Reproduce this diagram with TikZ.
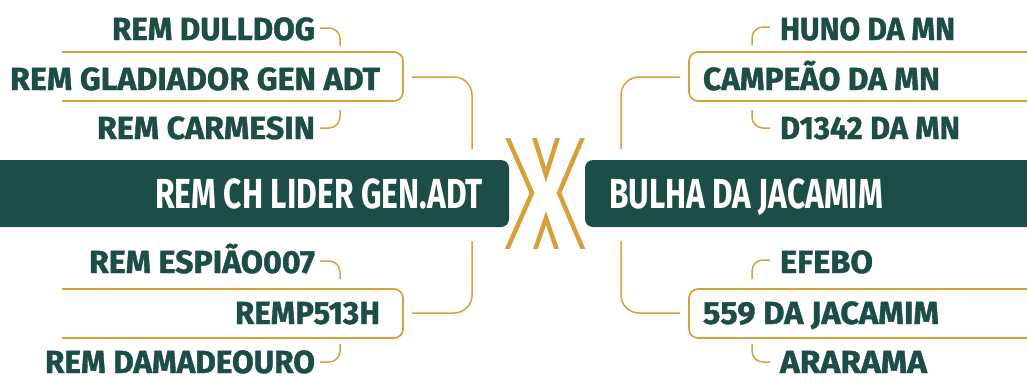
\documentclass[tikz,border=0pt]{standalone}
\usepackage{fontspec}
\usepackage{graphicx}
\setmainfont{Fira Sans}
\definecolor{dkgreen}{RGB}{29,77,71}
\definecolor{gold}{RGB}{214,160,58}
\newlength\fitlen
\newcommand\fitw[2]{\settowidth\fitlen{#2}\scalebox{\fpeval{#1/\fitlen}}[1]{#2}}
\tikzset{
  lbl/.style={font=\bfseries\addfontfeatures{FakeBold=1.2}\fontsize{32}{32}\selectfont, text=dkgreen, inner sep=0pt, outer sep=0pt},
  mainlbl/.style={font=\bfseries\fontsize{42}{42}\selectfont, text=white, inner sep=0pt, outer sep=0pt},
  mainbox/.style={fill=dkgreen, rounded corners=8pt},
  conn/.style={draw=gold, line width=1.5pt, rounded corners=18pt},
  brk/.style={draw=gold, line width=1.5pt, rounded corners=11pt},
  labframe/.style={draw=gold, line width=1.7pt, rounded corners=9pt},
  xmark/.style={draw=gold, line width=4.5pt}
}
\begin{document}
\begin{tikzpicture}[x=1pt,y=-1pt]
\useasboundingbox (0,0) rectangle (1027,383);
% main boxes
\fill[mainbox] (-20,160) rectangle (509,227);
\fill[mainbox] (585,160) rectangle (1050,227);
\node[mainlbl, anchor=base east] (sire) at (483,208) {\fitw{328}{REM CH LIDER GEN.ADT}};
\node[mainlbl, anchor=base west] (dam) at (609,208) {\fitw{274}{BULHA DA JACAMIM}};
% X mark
\begin{scope}
\clip (490,138) rectangle (600,248);
\draw[xmark] (502,125) -- (532,193) -- (502,261);
\draw[xmark] (588,125) -- (559,193) -- (588,261);
\draw[xmark] (531,127) -- (546,175) -- (561,127);
\draw[xmark] (532,259) -- (546,218) -- (560,259);
\end{scope}
% left labels
\node[lbl, anchor=base east] (l1) at (315,40) {\fitw{203}{REM DULLDOG}};
\node[lbl, anchor=base east] (l2) at (380,90) {\fitw{370}{REM GLADIADOR GEN ADT}};
\node[lbl, anchor=base east] (l3) at (315,139) {\fitw{218}{REM CARMESIN}};
\node[lbl, anchor=base east] (l4) at (315,273) {\fitw{226}{REM ESPIÃO007}};
\node[lbl, anchor=base east] (l5) at (380,324) {\fitw{145}{REMP513H}};
\node[lbl, anchor=base east] (l6) at (315,373) {\fitw{270}{REM DAMADEOURO}};
% right labels
\node[lbl, anchor=base west] (r1) at (780,40) {\fitw{175}{HUNO DA MN}};
\node[lbl, anchor=base west] (r2) at (703,90) {\fitw{237}{CAMPEÃO DA MN}};
\node[lbl, anchor=base west] (r3) at (780,139) {\fitw{180}{D1342 DA MN}};
\node[lbl, anchor=base west] (r4) at (780,273) {\fitw{93}{EFEBO}};
\node[lbl, anchor=base west] (r5) at (703,324) {\fitw{236}{559 DA JACAMIM}};
\node[lbl, anchor=base west] (r6) at (780,373) {\fitw{147}{ARARAMA}};
% frames (open on the outer side)
\coordinate (fl2a) at (62,52);  \coordinate (fl2b) at (62,101);
\coordinate (fl5a) at (62,289); \coordinate (fl5b) at (62,338);
\coordinate (fr2a) at (1040,52);  \coordinate (fr2b) at (1040,101);
\coordinate (fr5a) at (1040,289); \coordinate (fr5b) at (1040,338);
\draw[labframe] (fl2a) -- (403,52) -- (403,101) -- (fl2b);
\draw[labframe] (fl5a) -- (403,289) -- (403,338) -- (fl5b);
\draw[labframe] (fr2a) -- (689,52) -- (689,101) -- (fr2b);
\draw[labframe] (fr5a) -- (689,289) -- (689,338) -- (fr5b);
% connectors from frames to main boxes
\coordinate (cl2) at (412,77);  \coordinate (cl5) at (412,313);
\coordinate (cr2) at (680,77);  \coordinate (cr5) at (680,313);
\coordinate (sireTop) at (472,149); \coordinate (sireBot) at (472,241);
\coordinate (damTop) at (621,149);  \coordinate (damBot) at (621,241);
\draw[conn] (cl2) -- (sireTop |- cl2) -- (sireTop);
\draw[conn] (sireBot) -- (sireBot |- cl5) -- (cl5);
\draw[conn] (cr2) -- (damTop |- cr2) -- (damTop);
\draw[conn] (damBot) -- (damBot |- cr5) -- (cr5);
% brackets
\draw[brk] ([xshift=5pt]l1.east |- 0,28) -- (340,28) -- (340,46);
\draw[brk] (340,110) -- (340,128) -- ([xshift=5pt]l3.east |- 0,128);
\draw[brk] ([xshift=5pt]l4.east |- 0,261) -- (340,261) -- (340,279);
\draw[brk] (340,344) -- (340,362) -- ([xshift=5pt]l6.east |- 0,362);
\draw[brk] ([xshift=-10pt]r1.west |- 0,27) -- (752,27) -- (752,45);
\draw[brk] (752,110) -- (752,128) -- ([xshift=-10pt]r3.west |- 0,128);
\draw[brk] ([xshift=-10pt]r4.west |- 0,260) -- (752,260) -- (752,279);
\draw[brk] (752,344) -- (752,362) -- ([xshift=-10pt]r6.west |- 0,362);
\end{tikzpicture}
\end{document}
